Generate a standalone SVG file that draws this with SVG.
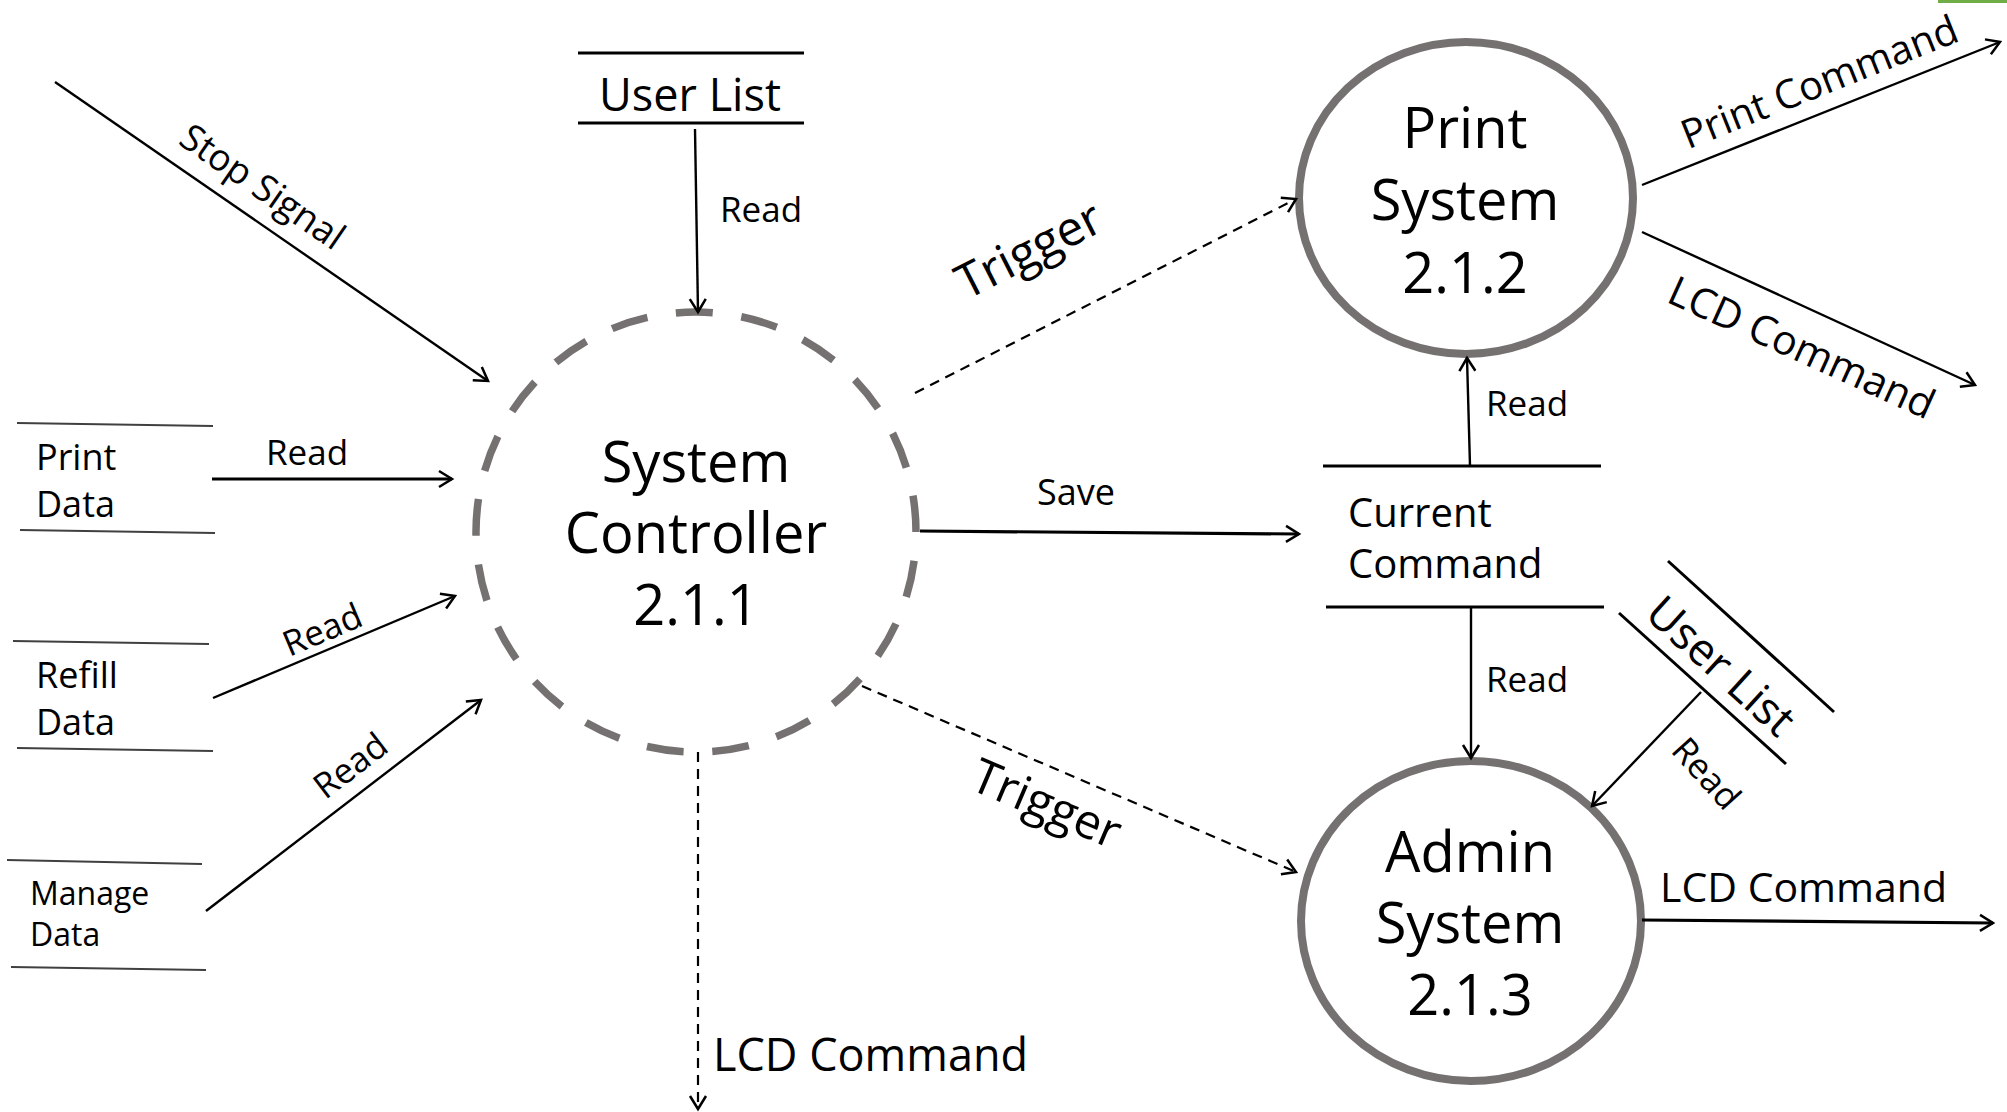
<svg xmlns="http://www.w3.org/2000/svg" width="2007" height="1112" viewBox="0 0 2007 1112">
<style>
text { font-family: "Open Sans", "Noto Sans", "DejaVu Sans", sans-serif; fill:#000; }
.big { font-size:56px; text-anchor:middle; }
.rd { font-size:35px; }
.mid { text-anchor:middle; }
.proc { fill:#fff; stroke:#767171; stroke-width:8; }
.flow { stroke:#000; stroke-width:2.4; fill:none; marker-end:url(#arr); }
.thick { stroke-width:3.2; }
.dash { stroke-dasharray:10 7; stroke-width:2.2; }
.store { stroke:#000; stroke-width:3; fill:none; }
.store2 { stroke:#404040; stroke-width:2; fill:none; }
</style>
<defs>
<marker id="arr" markerUnits="userSpaceOnUse" markerWidth="22" markerHeight="22" viewBox="0 0 22 22" refX="19" refY="11" orient="auto">
<path d="M6,3 L19,11 L6,19" fill="none" stroke="#000" stroke-width="2.5"/>
</marker>
</defs>
<rect x="0" y="0" width="2007" height="1112" fill="#fff"/>
<rect x="1938" y="0" width="69" height="3" fill="#70AD47"/>

<g id="sys-controller">
<circle cx="696" cy="532" r="220" fill="#fff" stroke="#767171" stroke-width="7.5" stroke-dasharray="37 28.82" stroke-dashoffset="37"/>
<text class="big" x="696" y="482">System</text>
<text class="big" x="696" y="553">Controller</text>
<text class="big" x="696" y="625">2.1.1</text>
</g>

<g id="print-system">
<ellipse class="proc" cx="1466" cy="198" rx="167" ry="156"/>
<text class="big" x="1465" y="148">Print</text>
<text class="big" x="1465" y="220">System</text>
<text class="big" x="1465" y="293">2.1.2</text>
</g>

<g id="admin-system">
<ellipse class="proc" cx="1471" cy="921" rx="170" ry="160"/>
<text class="big" x="1470" y="872">Admin</text>
<text class="big" x="1470" y="943">System</text>
<text class="big" x="1470" y="1015">2.1.3</text>
</g>

<g id="store-user-list-top">
<line class="store" x1="578" y1="53" x2="804" y2="53"/>
<line class="store" x1="578" y1="123" x2="804" y2="123"/>
<text class="mid" x="690" y="111" font-size="45">User List</text>
</g>

<g id="store-print-data">
<line class="store2" x1="17" y1="423" x2="213" y2="426"/>
<line class="store2" x1="20" y1="530" x2="215" y2="533"/>
<text x="36" y="470" font-size="36">Print</text>
<text x="36" y="517" font-size="36">Data</text>
</g>

<g id="store-refill-data">
<line class="store2" x1="13" y1="641" x2="209" y2="644"/>
<line class="store2" x1="17" y1="748" x2="213" y2="751"/>
<text x="36" y="688" font-size="36">Refill</text>
<text x="36" y="735" font-size="36">Data</text>
</g>

<g id="store-manage-data">
<line class="store2" x1="7" y1="860" x2="202" y2="864"/>
<line class="store2" x1="11" y1="967" x2="206" y2="970"/>
<text x="30" y="905" font-size="32">Manage</text>
<text x="30" y="946" font-size="32">Data</text>
</g>

<g id="store-current-command">
<line class="store" x1="1323" y1="466" x2="1601" y2="466"/>
<line class="store" x1="1326" y1="607" x2="1604" y2="607"/>
<text x="1348" y="527" font-size="40">Current</text>
<text x="1348" y="578" font-size="40">Command</text>
</g>

<g id="store-user-list-right">
<line class="store" stroke-width="2.6" x1="1668" y1="561" x2="1834" y2="712"/>
<line class="store" stroke-width="2.6" x1="1619" y1="613" x2="1786" y2="764"/>
<text class="mid" transform="translate(1722,665) rotate(42.3)" x="0" y="17" font-size="45">User List</text>
</g>

<g id="connectors">
<line class="flow" x1="55" y1="82" x2="488" y2="381"/>
<text class="mid" transform="translate(261,189) rotate(34.6)" x="0" y="10" font-size="37">Stop Signal</text>

<line class="flow" x1="695" y1="129" x2="698" y2="312"/>
<text class="rd" x="720" y="222">Read</text>

<line class="flow thick" x1="212" y1="479" x2="452" y2="479"/>
<text class="rd" x="266" y="465">Read</text>

<line class="flow" x1="213" y1="698" x2="455" y2="596"/>
<text class="rd mid" transform="translate(322,629) rotate(-22.9)" x="0" y="13">Read</text>

<line class="flow" x1="206" y1="911" x2="481" y2="700"/>
<text class="rd mid" transform="translate(350,765) rotate(-37.5)" x="0" y="13">Read</text>

<line class="flow dash" x1="698" y1="752" x2="698" y2="1109"/>
<text x="713" y="1071" font-size="45">LCD Command</text>

<line class="flow dash" x1="915" y1="393" x2="1296" y2="199"/>
<text class="mid" transform="translate(1031,254) rotate(-27)" x="0" y="12" font-size="48">Trigger</text>

<line class="flow thick" x1="920" y1="531" x2="1299" y2="534"/>
<text x="1037" y="505" font-size="36">Save</text>

<line class="flow dash" x1="862" y1="686" x2="1296" y2="872"/>
<text class="mid" transform="translate(1045,808) rotate(23)" x="0" y="12" font-size="48">Trigger</text>

<line class="flow" x1="1470" y1="466" x2="1467" y2="358"/>
<text class="rd" x="1486" y="416">Read</text>

<line class="flow" x1="1471" y1="607" x2="1471" y2="758"/>
<text class="rd" x="1486" y="692">Read</text>

<line class="flow" x1="1701" y1="692" x2="1592" y2="806"/>
<text class="rd mid" transform="translate(1707,773) rotate(48)" x="0" y="13">Read</text>

<line class="flow" x1="1642" y1="185" x2="2000" y2="42"/>
<text class="mid" transform="translate(1819,81) rotate(-21.8)" x="0" y="15" font-size="40">Print Command</text>

<line class="flow" x1="1642" y1="232" x2="1975" y2="385"/>
<text class="mid" transform="translate(1802,347) rotate(24.4)" x="0" y="15" font-size="41">LCD Command</text>

<line class="flow thick" x1="1642" y1="920" x2="1993" y2="923"/>
<text x="1660" y="902" font-size="41">LCD Command</text>
</g>
</svg>
